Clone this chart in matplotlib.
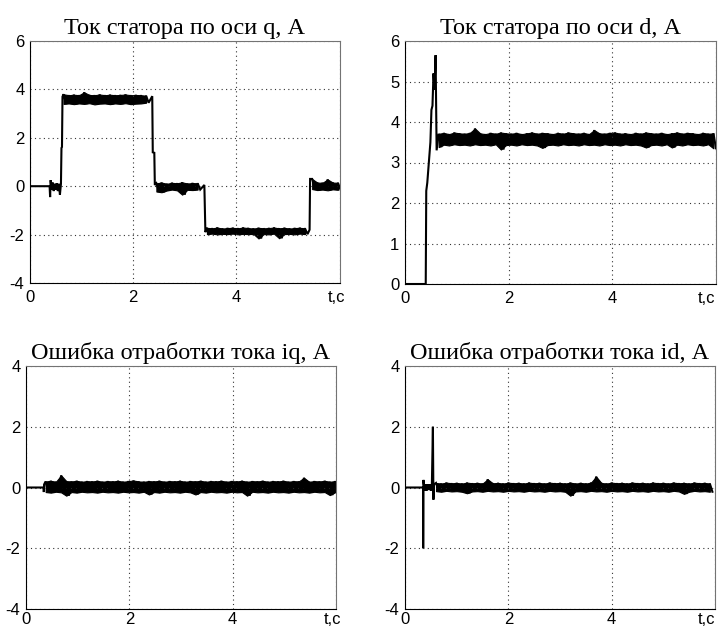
import numpy as np
import matplotlib
matplotlib.use("Agg")
import matplotlib.pyplot as plt
from matplotlib.transforms import ScaledTranslation

# ---------------- data ----------------
# Panel 1: stator current, q axis
iq_t = [0.00, 0.38, 0.39, 0.40, 0.42, 0.44, 0.46, 0.48, 0.50, 0.52, 0.54, 0.56, 0.58, 0.60,
        0.61, 0.62, 0.63,
        2.37, 2.38, 2.41, 2.42,
        3.38, 3.40,
        5.42, 5.43]
iq_v = [0.00, 0.00, -0.45, 0.25, -0.15, 0.15, -0.20, 0.10, -0.15, 0.12, -0.20, 0.10, -0.35, 0.10,
        1.58, 1.62, 3.70,
        3.72, 1.40, 1.38, 0.05,
        0.05, -1.90,
        -1.80, 0.30]
iq_b1_start = 0.65
iq_b1_hi = [3.80, 3.76, 3.78, 3.76, 3.88, 3.77, 3.76, 3.79, 3.76, 3.78, 3.76, 3.77, 3.79, 3.76, 3.77, 3.76, 3.74]
iq_b1_lo = [3.40, 3.42, 3.39, 3.42, 3.40, 3.43, 3.38, 3.41, 3.42, 3.39, 3.42, 3.40, 3.43, 3.39, 3.41, 3.42, 3.45]
iq_b2_start = 2.45
iq_b2_hi = [0.12, 0.15, 0.10, 0.14, 0.12, 0.16, 0.11, 0.13, 0.12]
iq_b2_lo = [-0.22, -0.25, -0.18, -0.14, -0.17, -0.35, -0.15, -0.16, -0.14]
iq_b3_start = 3.43
iq_b3_hi = [-1.72, -1.74, -1.71, -1.75, -1.73, -1.72, -1.74, -1.71, -1.73, -1.75,
            -1.72, -1.74, -1.73, -1.71, -1.74, -1.72, -1.75, -1.73, -1.72, -1.74]
iq_b3_lo = [-1.98, -1.96, -1.99, -1.97, -1.98, -1.96, -1.99, -1.97, -1.98, -1.97,
            -2.16, -1.98, -1.99, -1.96, -2.15, -1.98, -1.97, -1.99, -1.96, -1.98]
iq_b4_start = 5.47
iq_b4_hi = [0.30, 0.15, 0.14, 0.28, 0.15, 0.14]
iq_b4_lo = [-0.12, -0.16, -0.14, -0.17, -0.13, -0.15]

# Panel 2: stator current, d axis
id_t = [0.00, 0.40, 0.41, 0.43, 0.46, 0.49, 0.51, 0.53, 0.55, 0.57, 0.59, 0.61]
id_v = [0.00, 0.00, 2.30, 2.50, 3.00, 3.50, 4.30, 4.40, 5.20, 4.80, 5.65, 3.30]
id_b1_start = 0.65
id_b1_hi = [3.71, 3.73, 3.70, 3.74, 3.72, 3.71, 3.73, 3.84, 3.72, 3.70, 3.73, 3.71, 3.74, 3.72,
            3.71, 3.73, 3.70, 3.72, 3.74, 3.71, 3.73, 3.72, 3.70, 3.73, 3.71, 3.74, 3.72, 3.71,
            3.73, 3.70, 3.80, 3.72, 3.71, 3.73, 3.74, 3.71, 3.72, 3.70, 3.73, 3.71, 3.74, 3.72,
            3.71, 3.73, 3.70, 3.72, 3.74, 3.71, 3.73, 3.72, 3.70, 3.73, 3.71, 3.72]
id_b1_lo = [3.38, 3.44, 3.42, 3.45, 3.43, 3.44, 3.42, 3.45, 3.43, 3.44, 3.42, 3.45, 3.32, 3.43,
            3.44, 3.42, 3.45, 3.43, 3.44, 3.42, 3.36, 3.43, 3.44, 3.42, 3.45, 3.43, 3.44, 3.42,
            3.45, 3.43, 3.44, 3.42, 3.45, 3.43, 3.44, 3.42, 3.45, 3.43, 3.44, 3.42, 3.37, 3.43,
            3.44, 3.42, 3.45, 3.37, 3.44, 3.42, 3.45, 3.43, 3.44, 3.42, 3.45, 3.35]

# Panel 3: iq tracking error
eq_t = [0.00, 0.34, 0.345, 0.35]
eq_v = [0.00, 0.00, -0.15, 0.10]
eq_b1_start = 0.38
eq_b1_hi = [0.20, 0.22, 0.19, 0.40, 0.21, 0.20, 0.22, 0.19, 0.21, 0.20, 0.22, 0.19, 0.21, 0.20,
            0.22, 0.19, 0.21, 0.23, 0.20, 0.19, 0.21, 0.20, 0.22, 0.19, 0.21, 0.20, 0.22, 0.19,
            0.21, 0.20, 0.22, 0.19, 0.21, 0.20, 0.22, 0.19, 0.21, 0.20, 0.22, 0.19, 0.21, 0.20,
            0.22, 0.19, 0.21, 0.20, 0.22, 0.19, 0.21, 0.20, 0.32, 0.19, 0.21, 0.20, 0.22, 0.19, 0.21]
eq_b1_lo = [-0.15, -0.17, -0.14, -0.16, -0.27, -0.15, -0.17, -0.14, -0.16, -0.15, -0.17, -0.14,
            -0.16, -0.15, -0.17, -0.14, -0.16, -0.15, -0.17, -0.14, -0.23, -0.15, -0.17, -0.14,
            -0.16, -0.15, -0.17, -0.14, -0.16, -0.23, -0.15, -0.17, -0.14, -0.16, -0.15, -0.17,
            -0.14, -0.16, -0.15, -0.27, -0.14, -0.16, -0.15, -0.17, -0.14, -0.16, -0.15, -0.17,
            -0.14, -0.16, -0.15, -0.17, -0.14, -0.16, -0.15, -0.25, -0.16]

# Panel 4: id tracking error
ed_t = [0.00, 0.35, 0.352, 0.356, 0.38, 0.40, 0.42, 0.44, 0.46, 0.48, 0.50, 0.52, 0.54, 0.55, 0.56]
ed_v = [0.00, 0.00, -2.00, 0.25, -0.10, 0.10, -0.10, 0.10, -0.08, 0.10, -0.10, 0.08, 2.00, -0.40, 0.10]
ed_b1_start = 0.60
ed_b1_hi = [0.15, 0.13, 0.16, 0.14, 0.15, 0.13, 0.16, 0.14, 0.15, 0.13, 0.27, 0.14, 0.15, 0.13,
            0.16, 0.14, 0.15, 0.13, 0.16, 0.14, 0.15, 0.13, 0.16, 0.14, 0.15, 0.13, 0.16, 0.13,
            0.15, 0.13, 0.16, 0.36, 0.15, 0.13, 0.16, 0.14, 0.15, 0.13, 0.16, 0.14, 0.15, 0.13,
            0.16, 0.14, 0.15, 0.13, 0.16, 0.14, 0.15, 0.13, 0.16, 0.14, 0.15, 0.13]
ed_b1_lo = [-0.12, -0.14, -0.11, -0.13, -0.12, -0.14, -0.19, -0.13, -0.12, -0.14, -0.11, -0.13,
            -0.12, -0.14, -0.11, -0.13, -0.12, -0.14, -0.11, -0.13, -0.12, -0.14, -0.11, -0.13,
            -0.12, -0.14, -0.27, -0.13, -0.12, -0.14, -0.11, -0.13, -0.12, -0.14, -0.11, -0.13,
            -0.12, -0.14, -0.11, -0.13, -0.12, -0.14, -0.11, -0.13, -0.12, -0.14, -0.11, -0.13,
            -0.21, -0.14, -0.11, -0.13, -0.12, -0.14]

titles = ["Ток статора по оси q, А", "Ток статора по оси d, А",
          "Ошибка отработки тока iq, А", "Ошибка отработки тока id, А"]
x_ticks = [0, 2, 4, 6]
x_tick_labels = ["0", "2", "4", "t,c"]
y_ticks_1 = [-4, -2, 0, 2, 4, 6]
y_ticks_2 = [0, 1, 2, 3, 4, 5, 6]
y_ticks_err = [-4, -2, 0, 2, 4]

# ---------------- drawing ----------------
STEP = 0.1


def build(points_t, points_v, bands):
    xs = [np.asarray(points_t, float)]
    ys = [np.asarray(points_v, float)]
    fills = []
    for start, hi, lo in bands:
        hi = np.asarray(hi, float)
        lo = np.asarray(lo, float)
        t = start + STEP * np.arange(len(hi))
        x = np.empty(2 * len(hi))
        y = np.empty(2 * len(hi))
        x[0::2] = t
        x[1::2] = t + STEP / 2
        y[0::2] = hi
        y[1::2] = lo
        xs.append(x)
        ys.append(y)
        fills.append((t, lo, hi))
    x = np.concatenate(xs)
    y = np.concatenate(ys)
    order = np.argsort(x, kind="stable")
    return x[order], y[order], fills


panels = [
    (iq_t, iq_v, [(iq_b1_start, iq_b1_hi, iq_b1_lo), (iq_b2_start, iq_b2_hi, iq_b2_lo),
                  (iq_b3_start, iq_b3_hi, iq_b3_lo), (iq_b4_start, iq_b4_hi, iq_b4_lo)],
     (-4, 6), y_ticks_1),
    (id_t, id_v, [(id_b1_start, id_b1_hi, id_b1_lo)], (0, 6), y_ticks_2),
    (eq_t, eq_v, [(eq_b1_start, eq_b1_hi, eq_b1_lo)], (-4, 4), y_ticks_err),
    (ed_t, ed_v, [(ed_b1_start, ed_b1_hi, ed_b1_lo)], (-4, 4), y_ticks_err),
]

W, H = 719, 631
rects = [
    [30 / W, (H - 283) / H, 309.5 / W, 242 / H],
    [405 / W, (H - 284) / H, 311 / W, 243 / H],
    [26 / W, (H - 609) / H, 310 / W, 243 / H],
    [405 / W, (H - 609) / H, 310 / W, 243 / H],
]
label_shift = [-3, -9, -3, -9]  # pixels, keeps "t,c" inside the canvas
x_pads = [5, 5, 2.2, 2.2]

fig = plt.figure(figsize=(W / 100, H / 100), dpi=100)
for rect, (pt, pv, bands, ylim, yticks), title, shift, xpad in zip(
        rects, panels, titles, label_shift, x_pads):
    ax = fig.add_axes(rect)
    x, y, fills = build(pt, pv, bands)
    for t, lo, hi in fills:
        ax.fill_between(t, lo, hi, facecolor="black", edgecolor="black", linewidth=0.8)
    ax.plot(x, y, color="black", linewidth=1.5, solid_joinstyle="miter")
    ax.set_xlim(0, 6)
    ax.set_ylim(*ylim)
    ax.set_xticks(x_ticks)
    ax.set_xticklabels(x_tick_labels)
    ax.set_yticks(yticks)
    ax.set_yticklabels([str(v) for v in yticks])
    ax.grid(True, color="0.2", linestyle=(0, (1, 3)), linewidth=0.8)
    ax.tick_params(axis="both", length=0, labelsize=12)
    ax.tick_params(axis="x", pad=xpad)
    ax.tick_params(axis="y", pad=4)
    for lab in ax.get_xticklabels() + ax.get_yticklabels():
        lab.set_family(["Liberation Sans", "DejaVu Sans"])
    last = ax.get_xticklabels()[-1]
    last.set_transform(last.get_transform() + ScaledTranslation(shift / 100, 0, fig.dpi_scale_trans))
    for name, sp in ax.spines.items():
        sp.set_linewidth(0.8)
        sp.set_color("black" if name in ("left", "bottom") else "0.45")
    ax.set_title(title, family=["Liberation Serif", "DejaVu Serif"], fontsize=17.5, pad=5)

fig.savefig("out.png", dpi=100)
